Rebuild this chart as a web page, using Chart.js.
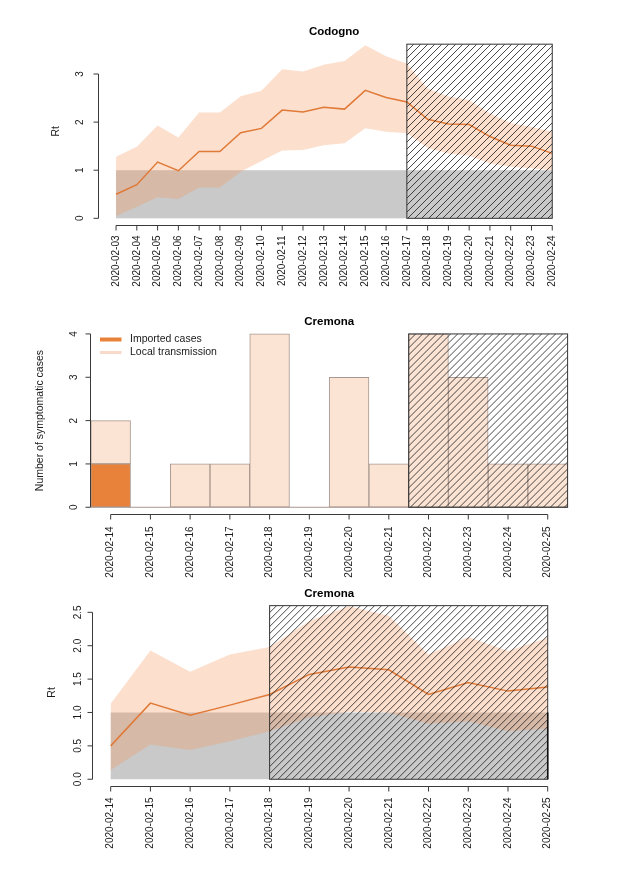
<!DOCTYPE html>
<html><head><meta charset="utf-8">
<script src="https://cdn.jsdelivr.net/npm/chart.js@4.4.0/dist/chart.umd.min.js"></script>
<style>
html,body{margin:0;padding:0;background:#fff;}
#wrap{position:relative;width:630px;height:896px;background:#fff;}
canvas{position:absolute;left:0;}
</style></head><body>
<div id="wrap">
<canvas id="c1" width="630" height="300" style="top:0px"></canvas>
<canvas id="c2" width="630" height="285" style="top:300px"></canvas>
<canvas id="c3" width="630" height="311" style="top:585px"></canvas>
</div>
<script>
// ---------------- DATA ----------------
const codognoDates = ['2020-02-03','2020-02-04','2020-02-05','2020-02-06','2020-02-07','2020-02-08','2020-02-09','2020-02-10','2020-02-11','2020-02-12','2020-02-13','2020-02-14','2020-02-15','2020-02-16','2020-02-17','2020-02-18','2020-02-19','2020-02-20','2020-02-21','2020-02-22','2020-02-23','2020-02-24'];
const codognoRt    = [0.50,0.70,1.17,0.99,1.39,1.39,1.78,1.87,2.25,2.21,2.31,2.27,2.66,2.51,2.42,2.06,1.96,1.95,1.70,1.52,1.50,1.35];
const codognoUpper = [1.28,1.49,1.93,1.68,2.20,2.20,2.54,2.65,3.10,3.05,3.19,3.27,3.60,3.37,3.22,2.70,2.53,2.46,2.18,1.98,1.90,1.80];
const codognoLower = [0.05,0.24,0.44,0.40,0.64,0.64,0.97,1.19,1.41,1.42,1.52,1.56,1.87,1.80,1.77,1.46,1.35,1.30,1.14,1.07,1.04,1.00];
const codognoYTicks = [0,1,2,3];
const codognoYTickLabels = ['0','1','2','3'];
const codognoHatchFrom = '2020-02-17';
const codognoHatchTop = 3.62;

const cremonaCaseDates = ['2020-02-14','2020-02-15','2020-02-16','2020-02-17','2020-02-18','2020-02-19','2020-02-20','2020-02-21','2020-02-22','2020-02-23','2020-02-24','2020-02-25'];
const cremonaImported = [1,0,0,0,0,0,0,0,0,0,0,0];
const cremonaLocal    = [1,0,1,1,4,0,3,1,4,3,1,1];
const cremonaCaseTicks = [0,1,2,3,4];
const cremonaCaseTickLabels = ['0','1','2','3','4'];
const cremonaCaseHatchFrom = '2020-02-22';
const cremonaCaseHatchTop = 4;
const seriesNames = ['Imported cases','Local transmission'];

const cremonaRtDates = ['2020-02-14','2020-02-15','2020-02-16','2020-02-17','2020-02-18','2020-02-19','2020-02-20','2020-02-21','2020-02-22','2020-02-23','2020-02-24','2020-02-25'];
const cremonaRt    = [0.50,1.14,0.96,1.11,1.27,1.57,1.68,1.64,1.27,1.45,1.32,1.38];
const cremonaUpper = [1.13,1.93,1.61,1.87,1.98,2.37,2.59,2.45,1.87,2.13,1.92,2.12];
const cremonaLower = [0.14,0.52,0.44,0.57,0.72,0.93,1.01,1.00,0.83,0.87,0.72,0.76];
const cremonaRtTicks = [0,0.5,1,1.5,2,2.5];
const cremonaRtTickLabels = ['0.0','0.5','1.0','1.5','2.0','2.5'];
const cremonaRtHatchFrom = '2020-02-18';
const cremonaRtHatchTop = 2.6;

const threshold = 1;

// ---------------- STYLE ----------------
const GREY = '#C9C9C9';
const BAND = 'rgba(244,148,88,0.30)';
const LINE = '#E07A38';
const IMPORTED = '#E8823A';
const LOCAL = '#FCE4D5';
const BAR_BORDER = '#A8988F';
const AXIS = '#3a3a3a';
const TEXT = '#1a1a1a';
const FONT = '"Liberation Sans", Arial, Helvetica, sans-serif';

Chart.defaults.animation = false;
Chart.defaults.events = [];

function hatchRect(ctx, x0, y0, x1, y1, step) {
  ctx.save();
  ctx.beginPath(); ctx.rect(x0, y0, x1 - x0, y1 - y0); ctx.clip();
  ctx.strokeStyle = '#262626'; ctx.lineWidth = 0.85;
  ctx.beginPath();
  const h = y1 - y0;
  for (let x = x0 - h; x < x1 + step; x += step) {
    ctx.moveTo(x, y1); ctx.lineTo(x + h, y0);
  }
  ctx.stroke();
  ctx.restore();
  ctx.save();
  ctx.strokeStyle = '#333'; ctx.lineWidth = 1;
  ctx.strokeRect(x0, y0, x1 - x0, y1 - y0);
  ctx.restore();
}

function panelPlugin(o) {
  return {
    id: 'rpanel',
    beforeDatasetsDraw(chart) {
      const {ctx, scales: {x, y}} = chart;
      if (o.grey) {
        const X0 = x.getPixelForValue(0), X1 = x.getPixelForValue(o.n - 1);
        const Y0 = y.getPixelForValue(threshold), Y1 = y.getPixelForValue(0);
        ctx.save(); ctx.fillStyle = GREY; ctx.fillRect(X0, Y0, X1 - X0, Y1 - Y0); ctx.restore();
      }
    },
    afterDatasetsDraw(chart) {
      const {ctx, chartArea: ca, scales: {x, y}} = chart;
      if (o.baseline) {
        const yb = y.getPixelForValue(0);
        ctx.save(); ctx.strokeStyle = BAR_BORDER; ctx.lineWidth = 1;
        ctx.beginPath(); ctx.moveTo(ca.left, yb); ctx.lineTo(ca.right, yb); ctx.stroke(); ctx.restore();
      }
      const X0 = x.getPixelForValue(o.hatchFrom), X1 = x.getPixelForValue(o.hatchTo);
      const Y0 = y.getPixelForValue(o.hatchTop), Y1 = y.getPixelForValue(0);
      hatchRect(ctx, X0, Y0, X1, Y1, 7);
      if (o.greyEdge) {
        ctx.save(); ctx.strokeStyle = '#111'; ctx.lineWidth = 1.6;
        ctx.beginPath(); ctx.moveTo(X1, y.getPixelForValue(threshold)); ctx.lineTo(X1, Y1); ctx.stroke(); ctx.restore();
      }
    },
    afterDraw(chart) {
      const {ctx, chartArea: ca, scales: {x, y}} = chart;
      ctx.save();
      ctx.strokeStyle = AXIS; ctx.lineWidth = 1; ctx.fillStyle = TEXT;
      // x axis
      const xb = Math.round(ca.bottom) + 0.5;
      const xp0 = x.getPixelForValue(0), xp1 = x.getPixelForValue(o.n - 1);
      ctx.beginPath(); ctx.moveTo(xp0, xb); ctx.lineTo(xp1, xb);
      for (let i = 0; i < o.n; i++) { const p = x.getPixelForValue(i); ctx.moveTo(p, xb); ctx.lineTo(p, xb + 5); }
      ctx.stroke();
      ctx.font = '10px ' + FONT;
      ctx.textAlign = 'right'; ctx.textBaseline = 'middle';
      for (let i = 0; i < o.n; i++) {
        const p = x.getPixelForValue(i);
        ctx.save(); ctx.translate(p, xb + o.xLabOff); ctx.rotate(-Math.PI / 2);
        ctx.fillText(o.labels[i], 0, 0); ctx.restore();
      }
      // y axis
      const yl = Math.round(ca.left) - 0.5;
      const yt0 = y.getPixelForValue(o.yTicks[0]), yt1 = y.getPixelForValue(o.yTicks[o.yTicks.length - 1]);
      ctx.beginPath(); ctx.moveTo(yl, yt0); ctx.lineTo(yl, yt1);
      o.yTicks.forEach(v => { const p = y.getPixelForValue(v); ctx.moveTo(yl, p); ctx.lineTo(yl - 5, p); });
      ctx.stroke();
      ctx.textAlign = 'center'; ctx.textBaseline = 'middle';
      o.yTicks.forEach((v, i) => {
        const p = y.getPixelForValue(v);
        ctx.save(); ctx.translate(yl - o.yLabOff, p); ctx.rotate(-Math.PI / 2);
        ctx.fillText(o.yTickLabels[i], 0, 0); ctx.restore();
      });
      // y title
      ctx.font = '10.5px ' + FONT;
      ctx.save(); ctx.translate(o.yTitleX, (ca.top + ca.bottom) / 2); ctx.rotate(-Math.PI / 2);
      ctx.fillText(o.yTitle, 0, 0); ctx.restore();
      // title
      ctx.font = 'bold 11.5px ' + FONT; ctx.fillStyle = '#000';
      ctx.fillText(o.title, (ca.left + ca.right) / 2, o.titleY);
      // legend
      if (o.legend) {
        ctx.lineCap = 'butt';
        ctx.strokeStyle = IMPORTED; ctx.lineWidth = 4;
        ctx.beginPath(); ctx.moveTo(100, 39.5); ctx.lineTo(121.5, 39.5); ctx.stroke();
        ctx.strokeStyle = '#F9DACA'; ctx.lineWidth = 3;
        ctx.beginPath(); ctx.moveTo(100, 52.5); ctx.lineTo(121.5, 52.5); ctx.stroke();
        ctx.font = '10.5px ' + FONT; ctx.fillStyle = TEXT; ctx.textAlign = 'left';
        ctx.fillText(seriesNames[0], 130, 39.5);
        ctx.fillText(seriesNames[1], 130, 52.5);
      }
      ctx.restore();
    }
  };
}

function rtChart(id, dates, rt, up, lo, xPad, yMin, yMax, padding, o) {
  const pts = a => a.map((v, i) => ({x: i, y: v}));
  return new Chart(document.getElementById(id), {
    type: 'line',
    data: {
      datasets: [
        {data: pts(rt), borderColor: LINE, borderWidth: 1.5, pointRadius: 0, fill: false, tension: 0},
        {data: pts(up), borderColor: 'transparent', borderWidth: 0, pointRadius: 0, backgroundColor: BAND, fill: '+1'},
        {data: pts(lo), borderColor: 'transparent', borderWidth: 0, pointRadius: 0, fill: false}
      ]
    },
    options: {
      responsive: false, animation: false,
      layout: {padding},
      plugins: {legend: {display: false}, tooltip: {enabled: false}, title: {display: false}},
      scales: {
        x: {type: 'linear', min: -xPad, max: dates.length - 1 + xPad, display: false},
        y: {type: 'linear', min: yMin, max: yMax, display: false}
      }
    },
    plugins: [panelPlugin(o)]
  });
}

// Panel 1: Codogno Rt
rtChart('c1', codognoDates, codognoRt, codognoUpper, codognoLower, 0.84, -0.145, 3.765,
  {left: 98.6, right: 60.3, top: 37.2, bottom: 74.7},
  {n: codognoDates.length, labels: codognoDates, grey: true,
   hatchFrom: codognoDates.indexOf(codognoHatchFrom), hatchTo: codognoDates.length - 1, hatchTop: codognoHatchTop,
   yTicks: codognoYTicks, yTickLabels: codognoYTickLabels, xLabOff: 10, yLabOff: 18,
   yTitle: 'Rt', yTitleX: 56, title: 'Codogno', titleY: 32});

// Panel 2: Cremona cases
new Chart(document.getElementById('c2'), {
  type: 'bar',
  data: {
    labels: cremonaCaseDates,
    datasets: [
      {label: seriesNames[0], data: cremonaImported, backgroundColor: IMPORTED, borderColor: BAR_BORDER, borderWidth: 1, borderSkipped: false, barPercentage: 1, categoryPercentage: 1, stack: 's'},
      {label: seriesNames[1], data: cremonaLocal, backgroundColor: LOCAL, borderColor: BAR_BORDER, borderWidth: 1, borderSkipped: false, barPercentage: 1, categoryPercentage: 1, stack: 's'}
    ]
  },
  options: {
    responsive: false, animation: false,
    layout: {padding: {left: 90.8, right: 62.4, top: 27, bottom: 70.8}},
    plugins: {legend: {display: false}, tooltip: {enabled: false}},
    scales: {
      x: {type: 'category', offset: true, stacked: true, display: false},
      y: {type: 'linear', stacked: true, min: -0.16, max: 4.16, display: false}
    }
  },
  plugins: [panelPlugin({n: cremonaCaseDates.length, labels: cremonaCaseDates, grey: false, baseline: true, legend: true,
    hatchFrom: cremonaCaseDates.indexOf(cremonaCaseHatchFrom) - 0.5, hatchTo: cremonaCaseDates.length - 0.5, hatchTop: cremonaCaseHatchTop,
    yTicks: cremonaCaseTicks, yTickLabels: cremonaCaseTickLabels, xLabOff: 12, yLabOff: 16,
    yTitle: 'Number of symptomatic cases', yTitleX: 40, title: 'Cremona', titleY: 22})]
});

// Panel 3: Cremona Rt
rtChart('c3', cremonaRtDates, cremonaRt, cremonaUpper, cremonaLower, 0.44, -0.104, 2.704,
  {left: 93.2, right: 64.8, top: 13.7, bottom: 109.8},
  {n: cremonaRtDates.length, labels: cremonaRtDates, grey: true, greyEdge: true,
   hatchFrom: cremonaRtDates.indexOf(cremonaRtHatchFrom), hatchTo: cremonaRtDates.length - 1, hatchTop: cremonaRtHatchTop,
   yTicks: cremonaRtTicks, yTickLabels: cremonaRtTickLabels, xLabOff: 11, yLabOff: 14,
   yTitle: 'Rt', yTitleX: 52, title: 'Cremona', titleY: 9});
</script>
</body></html>
